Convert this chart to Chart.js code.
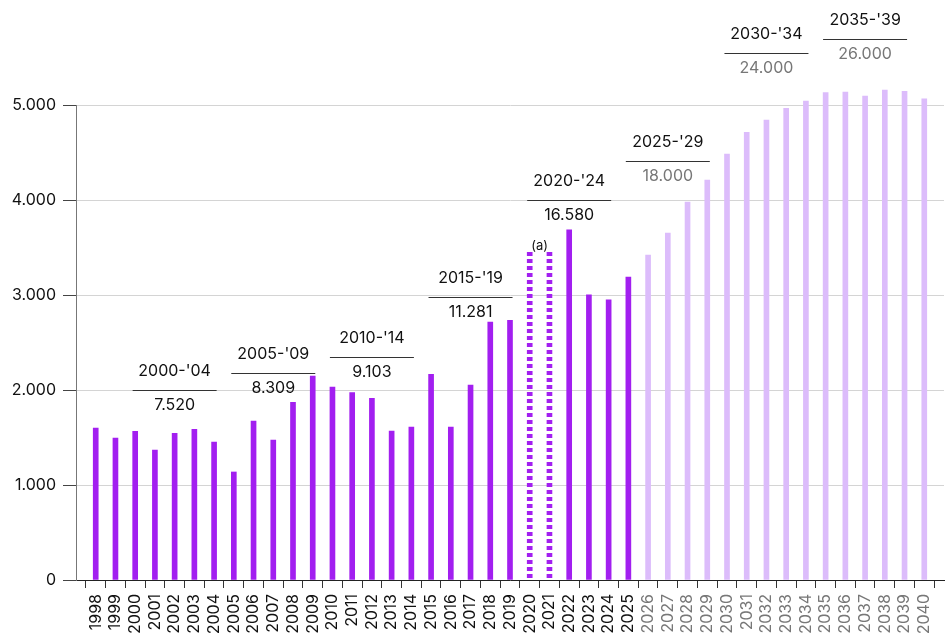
<!DOCTYPE html>
<html>
<head>
<meta charset="utf-8">
<script src="https://cdn.jsdelivr.net/npm/chart.js@4.4.1/dist/chart.umd.min.js"></script>
<style>
  html, body { margin: 0; padding: 0; background: #fff; }
  #wrap { width: 945px; height: 641px; position: relative; }
</style>
</head>
<body>
<div id="wrap"><canvas id="salesChart"></canvas></div>
<script>
const years = [
  1998, 1999, 2000, 2001, 2002, 2003, 2004, 2005, 2006, 2007, 2008,
  2009, 2010, 2011, 2012, 2013, 2014, 2015, 2016, 2017, 2018, 2019,
  2020, 2021, 2022, 2023, 2024, 2025, 2026, 2027, 2028, 2029, 2030,
  2031, 2032, 2033, 2034, 2035, 2036, 2037, 2038, 2039, 2040
];
const values = [
  1600, 1495, 1565, 1368, 1544, 1586, 1453, 1137, 1674, 1474, 1870,
  2147, 2032, 1972, 1912, 1568, 1610, 2165, 1610, 2053, 2716, 2733,
  3465, 3465, 3687, 3003, 2950, 3189, 3421, 3653, 3979, 4211, 4484,
  4712, 4842, 4965, 5042, 5130, 5137, 5095, 5158, 5144, 5066
];
const estimatedYears = [2020, 2021];
const firstForecastYear = 2026;

// five-year totals shown above the bars
const groupLabels = ["2000-'04", "2005-'09", "2010-'14", "2015-'19", "2020-'24", "2025-'29", "2030-'34", "2035-'39"];
const groupTotals = ['7.520', '8.309', '9.103', '11.281', '16.580', '18.000', '24.000', '26.000'];
const groupMidYears = [2002, 2007, 2012, 2017, 2022, 2027, 2032, 2037];
const groupForecast = [false, false, false, false, false, true, true, true];
// where the divider line of each total sits, on the value axis
const groupLineAt = [2003, 2179, 2351, 2982, 4000, 4411, 5544, 5695];

const purple = '#a21ff0';
const lavender = '#dcbcfb';

const points = years.map((y, i) => ({ x: y, y: values[i] }));
const actualPts = points.filter(p => p.x < firstForecastYear && !estimatedYears.includes(p.x));
const estimatedPts = points.filter(p => estimatedYears.includes(p.x));
const forecastPts = points.filter(p => p.x >= firstForecastYear);

function dotPattern() {
  const c = document.createElement('canvas');
  c.width = 1;
  c.height = 7;
  const g = c.getContext('2d');
  g.fillStyle = purple;
  g.fillRect(0, 0, 1, 4);
  return g.createPattern(c, 'repeat');
}

const fmt = v => String(v).replace(/\B(?=(\d{3})+(?!\d))/g, '.');

const groupsPlugin = {
  id: 'groups',
  afterDatasetsDraw(chart) {
    const { ctx, scales } = chart;
    const xs = scales.x, ys = scales.y;
    ctx.save();
    ctx.font = '16px Inter';
    ctx.textAlign = 'center';
    ctx.textBaseline = 'middle';
    groupLabels.forEach((lab, i) => {
      const x = xs.getPixelForValue(groupMidYears[i]);
      const y = Math.round(ys.getPixelForValue(groupLineAt[i])) + 0.5;
      ctx.strokeStyle = '#333';
      ctx.lineWidth = 1;
      ctx.beginPath();
      ctx.moveTo(x - 42, y);
      ctx.lineTo(x + 42, y);
      ctx.stroke();
      ctx.fillStyle = '#111';
      ctx.fillText(lab, x, y - 19.5);
      ctx.fillStyle = groupForecast[i] ? '#777' : '#111';
      ctx.fillText(groupTotals[i], x, y + 15);
    });
    // note over the estimated years
    const ax = (xs.getPixelForValue(estimatedYears[0]) + xs.getPixelForValue(estimatedYears[1])) / 2;
    const ay = ys.getPixelForValue(values[years.indexOf(estimatedYears[0])]);
    ctx.font = '13px Inter';
    ctx.fillStyle = '#111';
    ctx.textBaseline = 'alphabetic';
    ctx.fillText('(a)', ax, ay - 1);
    ctx.restore();
  }
};

const barCommon = { barThickness: 5, grouped: false, clip: false, borderWidth: 0 };

new Chart(document.getElementById('salesChart'), {
  type: 'bar',
  data: {
    datasets: [
      { label: 'Actual', data: actualPts, backgroundColor: purple, ...barCommon },
      { label: 'Estimated', data: estimatedPts, backgroundColor: dotPattern(), ...barCommon },
      { label: 'Forecast', data: forecastPts, backgroundColor: lavender, ...barCommon }
    ]
  },
  options: {
    responsive: true,
    maintainAspectRatio: false,
    animation: false,
    layout: { padding: { top: 105, right: 1, left: 0, bottom: 0 } },
    plugins: {
      legend: { display: false },
      tooltip: { enabled: false }
    },
    scales: {
      x: {
        type: 'linear',
        min: 1997,
        max: 2041,
        offset: false,
        afterBuildTicks: (scale) => {
          scale.ticks = years.map(y => ({ value: y }));
        },
        afterFit: (scale) => {
          scale.height = 61;
          scale.paddingLeft = 0;
          scale.paddingRight = 0;
        },
        grid: {
          drawOnChartArea: false,
          drawTicks: true,
          tickLength: 8,
          tickColor: '#333'
        },
        border: { color: '#222', width: 1 },
        ticks: {
          autoSkip: false,
          minRotation: 90,
          maxRotation: 90,
          padding: 6,
          font: { family: 'Inter', size: 16 },
          color: (c) => (c.tick && c.tick.value >= firstForecastYear ? '#777' : '#111'),
          callback: (v) => String(v)
        }
      },
      y: {
        min: 0,
        max: 5000,
        afterFit: (scale) => {
          scale.width = 76;
          scale.paddingTop = 0;
          scale.paddingBottom = 0;
        },
        grid: {
          color: '#d4d4d4',
          tickColor: '#444',
          tickLength: 13
        },
        border: { color: '#777', width: 1 },
        ticks: {
          stepSize: 1000,
          padding: 7,
          font: { family: 'Inter', size: 16 },
          color: '#111',
          callback: (v) => fmt(v)
        }
      }
    }
  },
  plugins: [groupsPlugin]
});
</script>
</body>
</html>
